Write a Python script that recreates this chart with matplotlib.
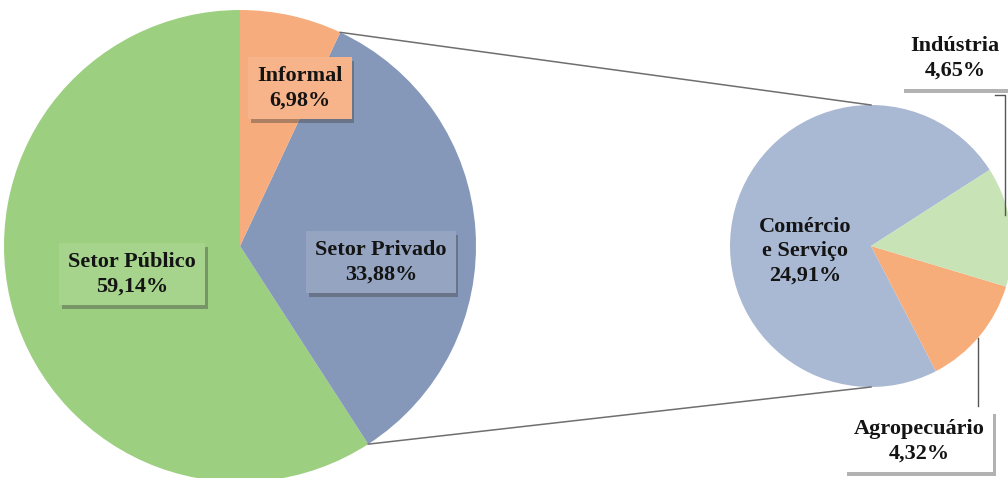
import numpy as np
import matplotlib.pyplot as plt
import matplotlib.patheffects as pe

# setores (pizza principal)
setores = ["Setor Público", "Setor Privado", "Informal"]
setores_pct = [59.14, 33.88, 6.98]
setores_cores = ["#9dcf81", "#8698b9", "#f6ac7d"]

# detalhamento do setor privado (pizza secundária)
privado = ["Comércio\ne Serviço", "Agropecuário", "Indústria"]
privado_pct = [24.91, 4.32, 4.65]
privado_cores = ["#a9b8d3", "#f7ad7a", "#c8e3b6"]

W, H = 1008, 478
fig = plt.figure(figsize=(W / 100, H / 100), dpi=100)
ax = fig.add_axes([0, 0, 1, 1])

c1, r1 = (240, 232), 236
c2, r2 = (871, 232), 141

def fmt(v):
    return f"{v:.2f}%".replace(".", ",")

w1, _ = ax.pie(setores_pct, colors=setores_cores, startangle=90,
               center=c1, radius=r1, frame=True,
               wedgeprops=dict(linewidth=0))
w2, _ = ax.pie(privado_pct, colors=privado_cores, startangle=32.7,
               center=c2, radius=r2, frame=True,
               wedgeprops=dict(linewidth=0))
ax.set_xlim(0, W)
ax.set_ylim(0, H)
ax.set_aspect("equal")
ax.axis("off")

# linhas ligando o setor privado à pizza secundária
wp = w1[1]
for ang, ty in [(wp.theta2, c2[1] + r2), (wp.theta1, c2[1] - r2)]:
    a = np.radians(ang)
    x0 = c1[0] + r1 * np.cos(a)
    y0 = c1[1] + r1 * np.sin(a)
    ax.plot([x0, c2[0]], [y0, ty], color="#6f6f6f", lw=1.1, zorder=1)

sombra = [pe.withSimplePatchShadow(offset=(2, -3), shadow_rgbFace="#404040", alpha=0.4)]
fonte = dict(ha="center", va="center", fontsize=16, fontweight="bold",
             family="Liberation Serif", color="#141414", linespacing=1.3, zorder=5)

def rotulo(x, y, txt, face, pad=0.4):
    t = ax.text(x, H - y, txt, **fonte,
                bbox=dict(boxstyle=f"square,pad={pad}", fc=face, ec="none"))
    t.get_bbox_patch().set_path_effects(sombra)
    return t

rotulo(300, 88, f"{setores[2]}\n{fmt(setores_pct[2])}", "#f7b38a")
rotulo(381, 262, f"{setores[1]}\n{fmt(setores_pct[1])}", "#94a4c1")
rotulo(132, 274, f"{setores[0]}\n{fmt(setores_pct[0])}", "#a6d48d")
ax.text(805, H - 251, f"{privado[0]}\n{fmt(privado_pct[0])}", **fonte)
rotulo(955, 58, f"{privado[2]}\n{fmt(privado_pct[2])}", "white")
rotulo(919, 441, f"{privado[1]}\n{fmt(privado_pct[1])}", "white")

# linhas de chamada dos rótulos externos
ax.plot([995, 1005, 1005], [H - 95, H - 95, H - 215], color="#555555", lw=1, zorder=4)
ax.plot([978, 978], [H - 338, H - 406], color="#555555", lw=1, zorder=4)

fig.savefig("out.png", dpi=100, facecolor="white")
